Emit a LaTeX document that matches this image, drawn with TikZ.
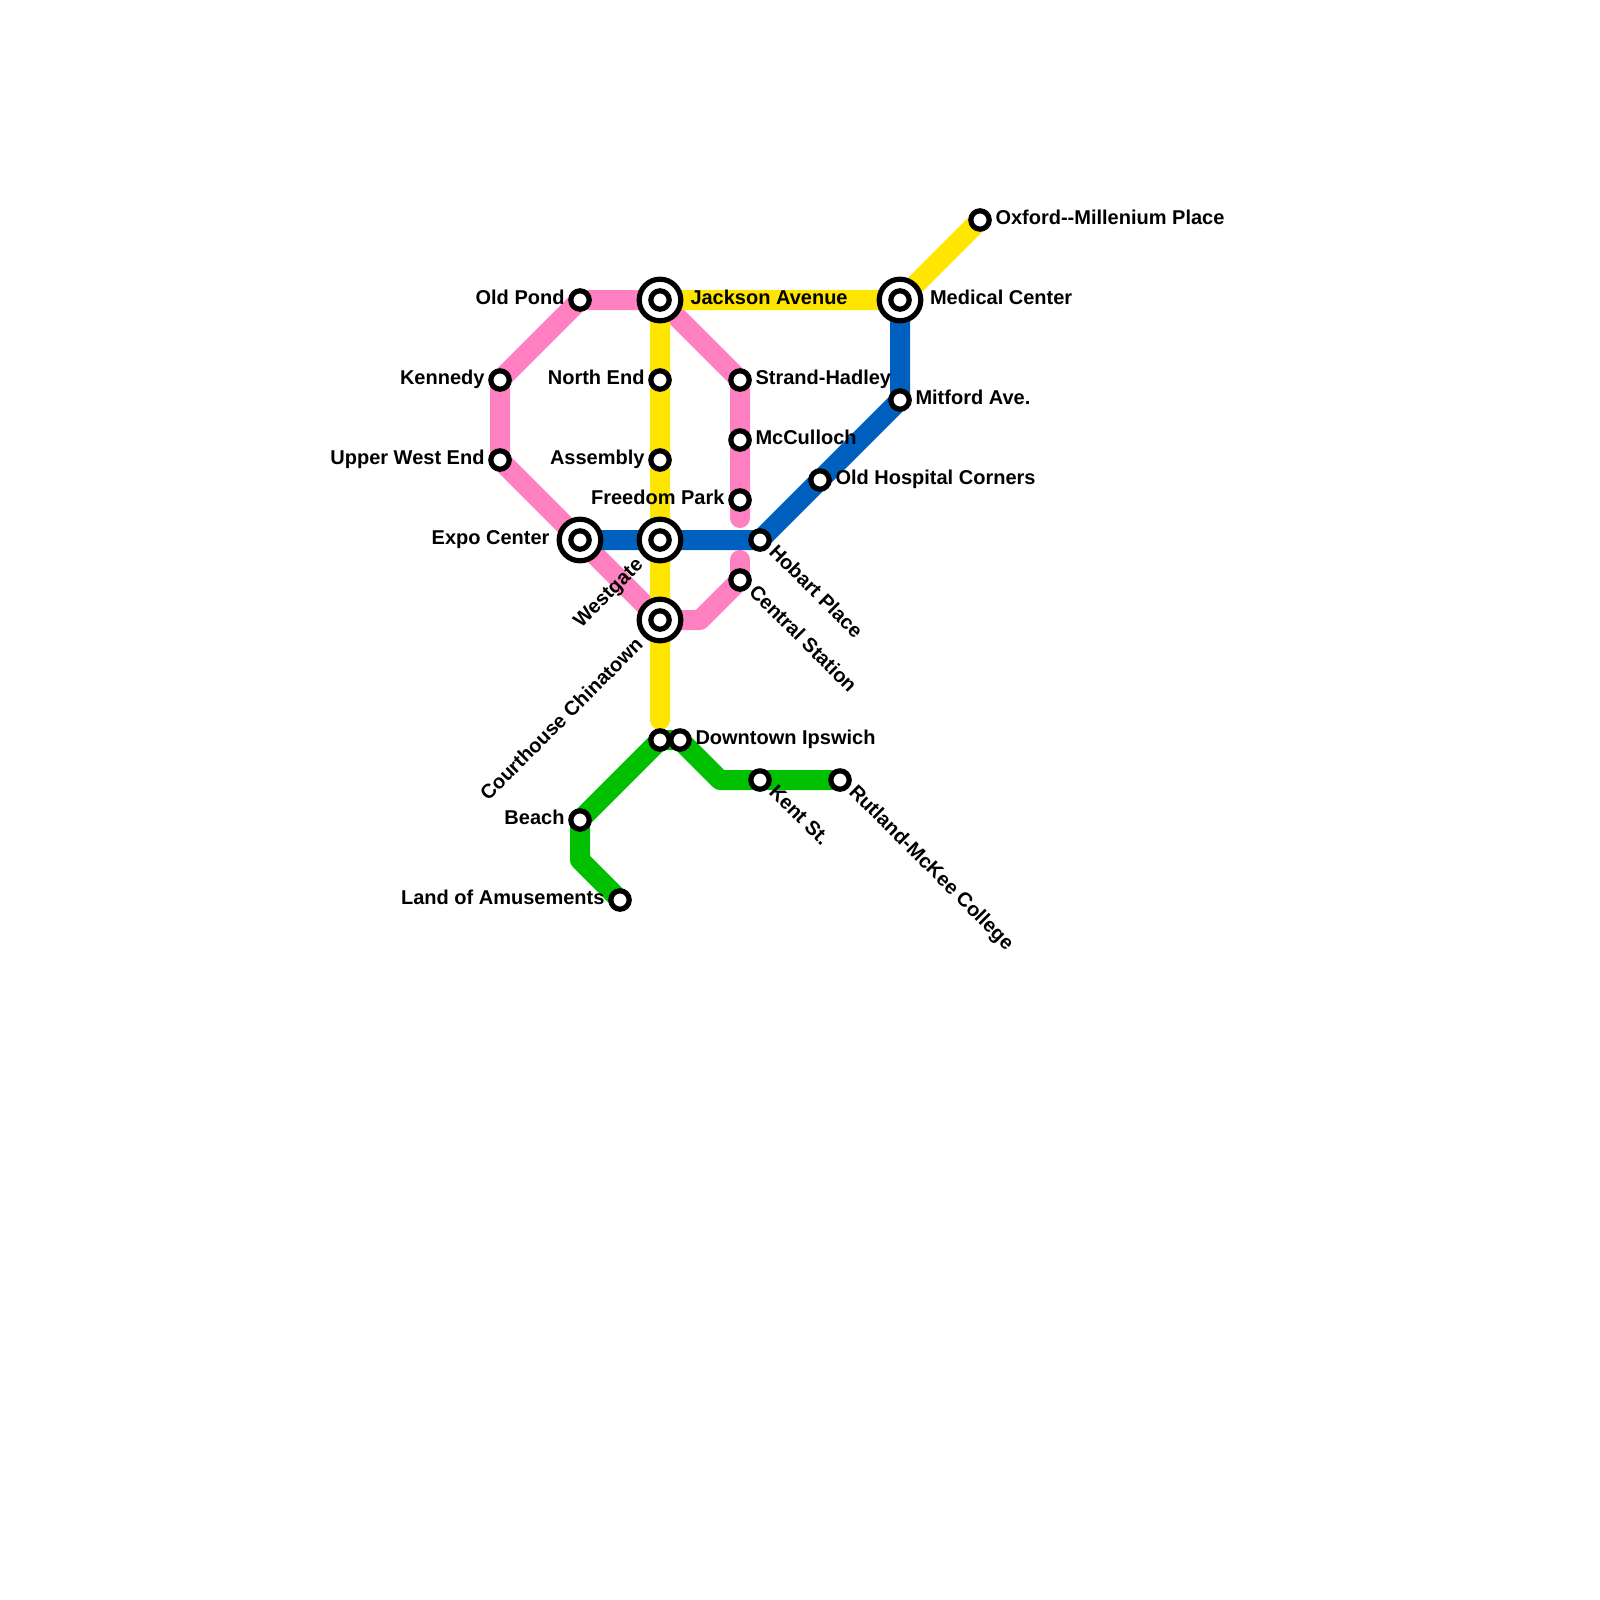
\documentclass[tikz,border=0pt]{standalone}
\usepackage{fontspec}
\setmainfont{Liberation Sans}
\pgfdeclarelayer{paper}
\pgfdeclarelayer{lines}
\pgfsetlayers{paper,lines,main}
\definecolor{pinkline}{HTML}{FF80C0}
\definecolor{yellowline}{HTML}{FFE600}
\definecolor{blueline}{HTML}{0060C0}
\definecolor{greenline}{HTML}{00C000}
\tikzset{
  stn/.style={circle,draw=black,fill=white,line width=5.2pt,minimum size=18.4pt,inner sep=0pt,outer sep=0pt},
  hubring/.style={circle,draw=black,fill=white,line width=5.2pt,minimum size=41.6pt,inner sep=0pt,outer sep=0pt},
  route/.style={line width=20pt,line cap=round,line join=round},
  lbl/.style={font=\bfseries\fontsize{20}{22}\selectfont,text=black,inner sep=0pt,outer sep=0pt},
  lr/.style={lbl,anchor=base west},
  ll/.style={lbl,anchor=base east},
  lup/.style={lbl,anchor=base east,rotate=45},
  ldn/.style={lbl,anchor=base west,rotate=-45}
}
\begin{document}
\begin{tikzpicture}[x=1pt,y=-1pt]
\useasboundingbox (0,0) rectangle (1600,1600);
\begin{pgfonlayer}{paper}
\fill[white] (0,0) rectangle (1600,1600);
\end{pgfonlayer}
% hubs
\node[hubring] (jacksonring) at (660,300) {};
\node[stn] (jackson) at (660,300) {};
\node[hubring] (medicalring) at (900,300) {};
\node[stn] (medical) at (900,300) {};
\node[hubring] (exporing) at (580,540) {};
\node[stn] (expo) at (580,540) {};
\node[hubring] (westgatering) at (660,540) {};
\node[stn] (westgate) at (660,540) {};
\node[hubring] (courthousering) at (660,620) {};
\node[stn] (courthouse) at (660,620) {};
% stations
\node[stn] (oxford) at (980,220) {};
\node[stn] (oldpond) at (580,300) {};
\node[stn] (kennedy) at (500,380) {};
\node[stn] (upperwest) at (500,460) {};
\node[stn] (northend) at (660,380) {};
\node[stn] (assembly) at (660,460) {};
\node[stn] (strand) at (740,380) {};
\node[stn] (mcculloch) at (740,440) {};
\node[stn] (freedom) at (740,500) {};
\node[stn] (central) at (740,580) {};
\node[stn] (hobart) at (760,540) {};
\node[stn] (oldhospital) at (820,480) {};
\node[stn] (mitford) at (900,400) {};
\node[stn] (downtowna) at (660,740) {};
\node[stn] (downtownb) at (680,740) {};
\node[stn] (beach) at (580,820) {};
\node[stn] (land) at (620,900) {};
\node[stn] (kent) at (760,780) {};
\node[stn] (rutland) at (840,780) {};
% free ends and bends
\coordinate (pinkstub) at (740,518);
\coordinate (pinkstubb) at (740,560);
\coordinate (pinkbend) at (700,620);
\coordinate (yellowend) at (660,720);
\coordinate (greenbenda) at (580,860);
\coordinate (greenbendb) at (720,780);
% labels
\node[lr] (loxford) at (995.5,224) {Oxford-{}-Millenium Place};
\node[lr] (ljackson) at (690.5,304) {Jackson Avenue};
\node[lr] (lmedical) at (930,304) {Medical Center};
\node[ll] (loldpond) at (564.5,304) {Old Pond};
\node[ll] (lkennedy) at (484.5,384) {Kennedy};
\node[ll] (lupperwest) at (484.5,464) {Upper West End};
\node[ll] (lnorthend) at (644.5,384) {North End};
\node[ll] (lassembly) at (644.5,464) {Assembly};
\node[lr] (lstrand) at (755.5,384) {Strand-Hadley};
\node[lr] (lmcculloch) at (755.5,444) {McCulloch};
\node[ll] (lfreedom) at (724.5,504) {Freedom Park};
\node[lr] (lmitford) at (915.5,404) {Mitford Ave.};
\node[lr] (loldhospital) at (835.5,484) {Old Hospital Corners};
\node[ll] (lexpo) at (549.5,544) {Expo Center};
\node[lr] (ldowntown) at (695.5,744) {Downtown Ipswich};
\node[ll] (lbeach) at (564.5,824) {Beach};
\node[ll] (lland) at (604.5,904) {Land of Amusements};
\node[lup] (lwestgate) at (644,566) {Westgate};
\node[lup] (lcourthouse) at (644,646) {Courthouse Chinatown};
\node[ldn] (lhobart) at (768,553) {Hobart Place};
\node[ldn] (lcentral) at (748,593) {Central Station};
\node[ldn] (lkent) at (768,793) {Kent St.};
\node[ldn] (lrutland) at (848,793) {Rutland-McKee College};
% lines
\begin{pgfonlayer}{lines}
\draw[route,greenline] (land.center) -- (greenbenda) -- (beach.center) -- (downtowna.center) -- (downtownb.center) -- (greenbendb) -- (kent.center) -- (rutland.center);
\draw[route,pinkline] (central.center) -- (pinkstubb);
\draw[route,pinkline] (central.center) -- (pinkbend) -- (courthouse.center) -- (expo.center) -- (upperwest.center) -- (kennedy.center) -- (oldpond.center) -- (jackson.center) -- (strand.center) -- (mcculloch.center) -- (freedom.center) -- (pinkstub);
\draw[route,yellowline] (oxford.center) -- (medical.center) -- (jackson.center) -- (northend.center) -- (assembly.center) -- (westgate.center) -- (courthouse.center) -- (yellowend);
\draw[route,blueline] (expo.center) -- (westgate.center) -- (hobart.center) -- (oldhospital.center) -- (mitford.center) -- (medical.center);
\end{pgfonlayer}
\end{tikzpicture}
\end{document}
